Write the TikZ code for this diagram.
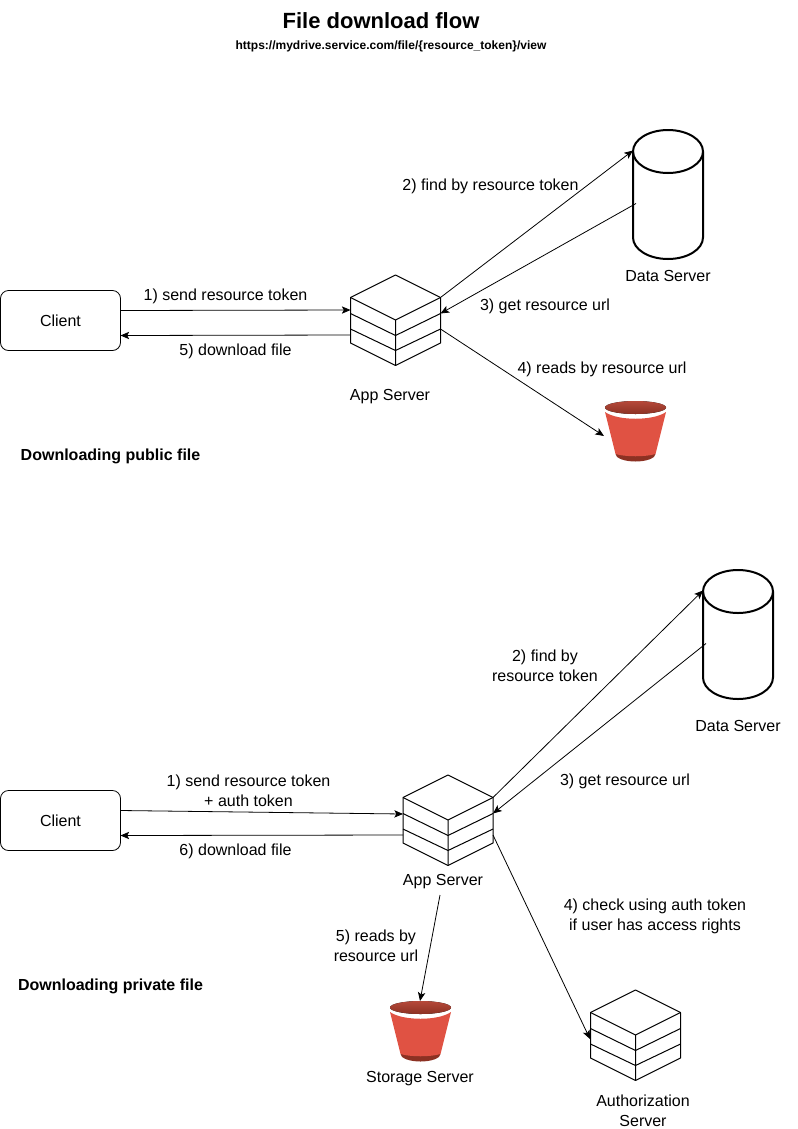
\documentclass[tikz,border=0pt]{standalone}
\usepackage{fontspec}
\setmainfont{Liberation Sans}
\usetikzlibrary{arrows.meta}
\definecolor{bucketred}{HTML}{E05243}
\definecolor{bucketdark}{HTML}{8C3123}
\definecolor{bucketlid}{HTML}{B5493A}
\tikzset{
  lbl/.style={font=\fontsize{12}{15}\selectfont, align=center, inner sep=0pt, yshift=-.9pt},
  head/.style={font=\bfseries\fontsize{12}{15}\selectfont, inner sep=0pt, yshift=-.9pt},
  flow/.style={-{Stealth[length=6.5pt,width=5.5pt,inset=1.5pt]}, line width=.6pt},
  clientbox/.style={draw, rounded corners=6pt, minimum width=90pt, minimum height=45pt, line width=.6pt, font=\fontsize{12}{15}\selectfont},
  pics/stack/.style={code={
    \draw[line width=.75pt, line join=round, fill=white] (-45,-22.5) -- (0,-45) -- (45,-22.5) -- (45,23) -- (0,45.5) -- (-45,23) -- cycle;
    \draw[line width=.75pt] (-45,-22.5) -- (0,0) -- (45,-22.5) (0,0) -- (0,45.5);
    \draw[line width=.75pt] (-45,-6.5) -- (0,15.5) -- (45,-6.5);
    \draw[line width=.75pt] (-45,9) -- (0,30.5) -- (45,9);
    \coordinate (-w) at (-45,-10);
    \coordinate (-sw) at (-45,15);
    \coordinate (-ne) at (45,-22.5);
    \coordinate (-e) at (45,-6.5);
    \coordinate (-se) at (45,9);
  }},
  pics/dbcyl/.style={code={
    \draw[line width=1.5pt, fill=white] (-35,-43) -- (-35,43) arc[start angle=180, end angle=0, x radius=35, y radius=21.5] -- (35,-43);
    \draw[line width=1.5pt] (0,-43) ellipse[x radius=35, y radius=21.5];
    \coordinate (-in) at (-35,-44);
    \coordinate (-out) at (-32,9);
  }},
  pics/bucket/.style={code={
    \fill[bucketdark] (-20,23) arc[start angle=180, end angle=0, x radius=20, y radius=7.5] -- cycle;
    \fill[bucketred] (-30.5,-19) .. controls (-18,-10) and (18,-10) .. (30.5,-19) -- (20,23) .. controls (10,26) and (-10,26) .. (-20,23) -- cycle;
    \fill[top color=bucketlid, bottom color=bucketdark] (0,-23.5) ellipse[x radius=30.5, y radius=6.5];
  }},
}
\begin{document}
\begin{tikzpicture}[x=.75pt, y=-.75pt]
\useasboundingbox (0,0) rectangle (798,1129);
\node[font=\bfseries\fontsize{16.5}{18}\selectfont, inner sep=0pt] (title) at (381,21){File download flow};
\node[font=\bfseries\fontsize{9}{9}\selectfont, inner sep=0pt] (url) at (391,46){https://mydrive.service.com/file/\{resource\_token\}/view};

% public file
\node[clientbox] (client1) at (60.5,320.5){Client};
\coordinate (client1in) at (120.5,335.5);
\coordinate (client1out) at (120.5,310.5);
\pic (app1) at (395.5,320){stack};
\pic (data1) at (668,194.5){dbcyl};
\pic at (635.5,431){bucket};
\coordinate (bucket1) at (604,436);
\node[lbl] (app1lbl) at (390,395){App Server};
\node[lbl] (data1lbl) at (668,275){Data Server};
\node[head] (public) at (110.5,455){Downloading public file};
\draw[flow](client1out) -- (app1-w);
\draw[flow](app1-sw) -- (client1in);
\draw[flow](app1-ne) -- (data1-in);
\draw[flow](data1-out) -- (app1-e);
\draw[flow](app1-se) -- (bucket1);
\node[lbl] (l1a) at (225.5,295){1) send resource token};
\node[lbl] (l5a) at (235.5,350){5) download file};
\node[lbl] (l2a) at (490.5,185){2) find by resource token};
\node[lbl] (l3a) at (545,305){3) get resource url};
\node[lbl] (l4a) at (602,368){4) reads by resource url};

% private file
\node[clientbox] (client2) at (60.5,820.5){Client};
\coordinate (client2in) at (120.5,835.5);
\coordinate (client2out) at (120.5,810.5);
\pic (app2) at (448,820){stack};
\coordinate (app2port) at (403,814);
\coordinate (app2low) at (493,835);
\pic (auth) at (635.5,1035){stack};
\coordinate (authport) at (590,1039);
\pic (data2) at (738,634.5){dbcyl};
\pic at (420.5,1031){bucket};
\coordinate (bucket2) at (420,1001);
\coordinate (app2foot) at (440,895);
\node[lbl] (app2lbl) at (443,880){App Server};
\node[lbl] (data2lbl) at (738,725){Data Server};
\node[lbl] (storelbl) at (420,1077){Storage Server};
\node[lbl] (authlbl) at (643,1110){Authorization\\Server};
\node[head] (private) at (110.5,985){Downloading private file};
\draw[flow](client2out) -- (app2port);
\draw[flow](app2-sw) -- (client2in);
\draw[flow](app2-ne) -- (data2-in);
\draw[flow](data2-out) -- (app2-e);
\draw[flow](app2low) -- (authport);
\draw[flow](app2foot) -- (bucket2);
\node[lbl] (l1b) at (248.5,790){1) send resource token\\+ auth token};
\node[lbl] (l6b) at (235.5,850){6) download file};
\node[lbl] (l2b) at (545,665){2) find by\\resource token};
\node[lbl] (l3b) at (625,780){3) get resource url};
\node[lbl] (l4b) at (655,915){4) check using auth token\\if user has access rights};
\node[lbl] (l5b) at (376,945){5) reads by\\resource url};
\end{tikzpicture}
\end{document}
